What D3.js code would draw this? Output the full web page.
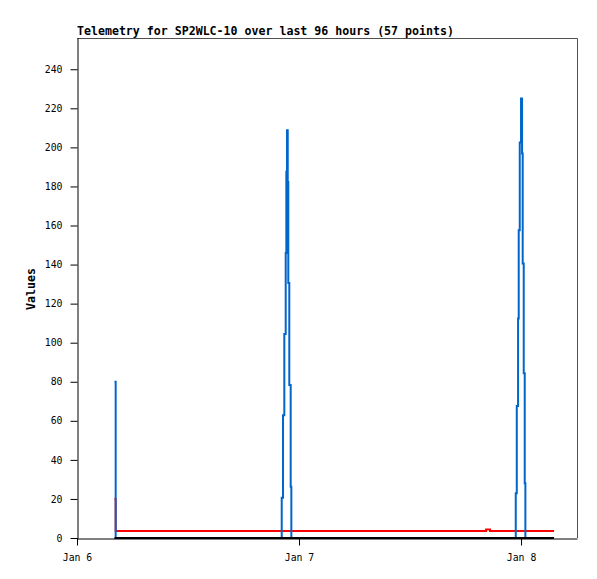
<!DOCTYPE html>
<html>
<head>
<meta charset="utf-8">
<script src="https://cdn.jsdelivr.net/npm/d3@7"></script>
<style>
  html, body { margin: 0; padding: 0; background: #fff; }
  svg { display: block; }
</style>
</head>
<body>
<script>
// ---- Data ----
const titleText = "Telemetry for SP2WLC-10 over last 96 hours (57 points)";
const yAxisTitle = "Values";
// time of each point, hours after Jan 6 00:00
const hoursSinceJan6 = [
  4.05, 4.18,
  5.5, 7.0, 8.5, 10.0, 11.5, 13.0, 14.5, 16.0, 17.5, 19.0, 20.5, 21.6,
  22.13, 22.27, 22.41, 22.56, 22.63, 22.70, 22.78, 22.84, 22.95, 23.10, 23.17,
  24.5, 26.0, 27.5, 29.0, 30.5, 32.0, 33.5, 35.0, 36.5, 38.0, 39.5, 41.0, 42.5,
  44.22, 44.65,
  45.5, 46.5,
  47.43, 47.54, 47.68, 47.75, 47.86, 48.00, 48.11, 48.18, 48.29, 48.40, 48.47,
  49.2, 50.0, 50.8, 51.57
];
const blueValues = [
  80, 0,
  0, 0, 0, 0, 0, 0, 0, 0, 0, 0, 0, 0,
  20.6, 62.9, 104.4, 145.9, 187.5, 208.8, 182.3, 130.5, 78.3, 26.3, 0,
  0, 0, 0, 0, 0, 0, 0, 0, 0, 0, 0, 0, 0,
  0, 0,
  0, 0,
  22.9, 67.6, 112.4, 157.6, 202.5, 225, 196.9, 140.6, 84.3, 28, 0,
  0, 0, 0, 0
];
const redValues = [
  20, 3.6,
  3.6, 3.6, 3.6, 3.6, 3.6, 3.6, 3.6, 3.6, 3.6, 3.6, 3.6, 3.6,
  3.6, 3.6, 3.6, 3.6, 3.6, 3.6, 3.6, 3.6, 3.6, 3.6, 3.6,
  3.6, 3.6, 3.6, 3.6, 3.6, 3.6, 3.6, 3.6, 3.6, 3.6, 3.6, 3.6, 3.6,
  4.4, 3.6,
  3.6, 3.6,
  3.6, 3.6, 3.6, 3.6, 3.6, 3.6, 3.6, 3.6, 3.6, 3.6, 3.6,
  3.6, 3.6, 3.6, 3.6
];
const blackValues = hoursSinceJan6.map(() => 0);
const yTickValues = [0, 20, 40, 60, 80, 100, 120, 140, 160, 180, 200, 220, 240];
const xTickLabels = ["Jan 6", "Jan 7", "Jan 8"];
const xTickDays = [0, 1, 2];
const xDomainHours = [0, 54.05];
const yDomain = [0, 256];

// ---- Layout ----
const W = 597, H = 579;
const mLeft = 77, mRight = 577, mTop = 38, mBottom = 538;
const mono = "'DejaVu Sans Mono', monospace";

const base = new Date(2000, 0, 6, 0, 0, 0);
const toDate = h => new Date(base.getTime() + h * 3600 * 1000);

const x = d3.scaleTime().domain(xDomainHours.map(toDate)).range([mLeft, mRight]);
const y = d3.scaleLinear().domain(yDomain).range([mBottom, mTop]);

const svg = d3.select("body").append("svg").attr("width", W).attr("height", H);

// frame (top/right)
svg.append("path")
  .attr("d", `M${mLeft},${mTop + 0.5}H${mRight + 0.5}V${mBottom}`)
  .attr("fill", "none").attr("stroke", "#505050").attr("stroke-width", 1);

// axes
const yAxis = d3.axisLeft(y).tickValues(yTickValues).tickSize(7).tickPadding(8).tickSizeOuter(0);
const gy = svg.append("g").attr("transform", `translate(${mLeft + 0.5},0)`).call(yAxis);
const xAxis = d3.axisBottom(x).tickValues(xTickDays.map(d => toDate(d * 24)))
  .tickFormat((d, i) => xTickLabels[i]).tickSize(7).tickPadding(9).tickSizeOuter(0);
const gx = svg.append("g").attr("transform", `translate(0,${mBottom + 0.5})`).call(xAxis);

[gy, gx].forEach(g => {
  g.select(".domain").attr("stroke", "#000");
  g.selectAll(".tick line").attr("stroke", "#000");
  g.selectAll(".tick text").attr("fill", "#000")
    .style("font-family", mono).style("font-size", "9.8px");
});
svg.append("line").attr("x1", mLeft + 0.5).attr("x2", mLeft + 0.5)
  .attr("y1", mBottom).attr("y2", mBottom + 7).attr("stroke", "#000");

// series
const pts = vals => hoursSinceJan6.map((h, i) => [toDate(h), vals[i]]);
const line = d3.line().x(d => x(d[0])).y(d => y(d[1])).curve(d3.curveStepAfter);

const series = [
  { values: redValues, color: "#ff0000" },
  { values: blueValues, color: "#0066cc" },
  { values: blackValues, color: "#000000" }
];
svg.append("g").selectAll("path").data(series).join("path")
  .attr("d", s => line(pts(s.values)))
  .attr("fill", "none")
  .attr("stroke", s => s.color)
  .attr("stroke-width", 2)
  .attr("stroke-linejoin", "miter");

// title
svg.append("text").attr("x", mLeft).attr("y", 35)
  .style("font-family", mono).style("font-size", "11.6px").style("font-weight", "bold")
  .text(titleText);

// y axis title
svg.append("text")
  .attr("transform", `translate(35,289) rotate(-90)`)
  .attr("text-anchor", "middle")
  .style("font-family", mono).style("font-size", "11.6px").style("font-weight", "bold")
  .text(yAxisTitle);
</script>
</body>
</html>
